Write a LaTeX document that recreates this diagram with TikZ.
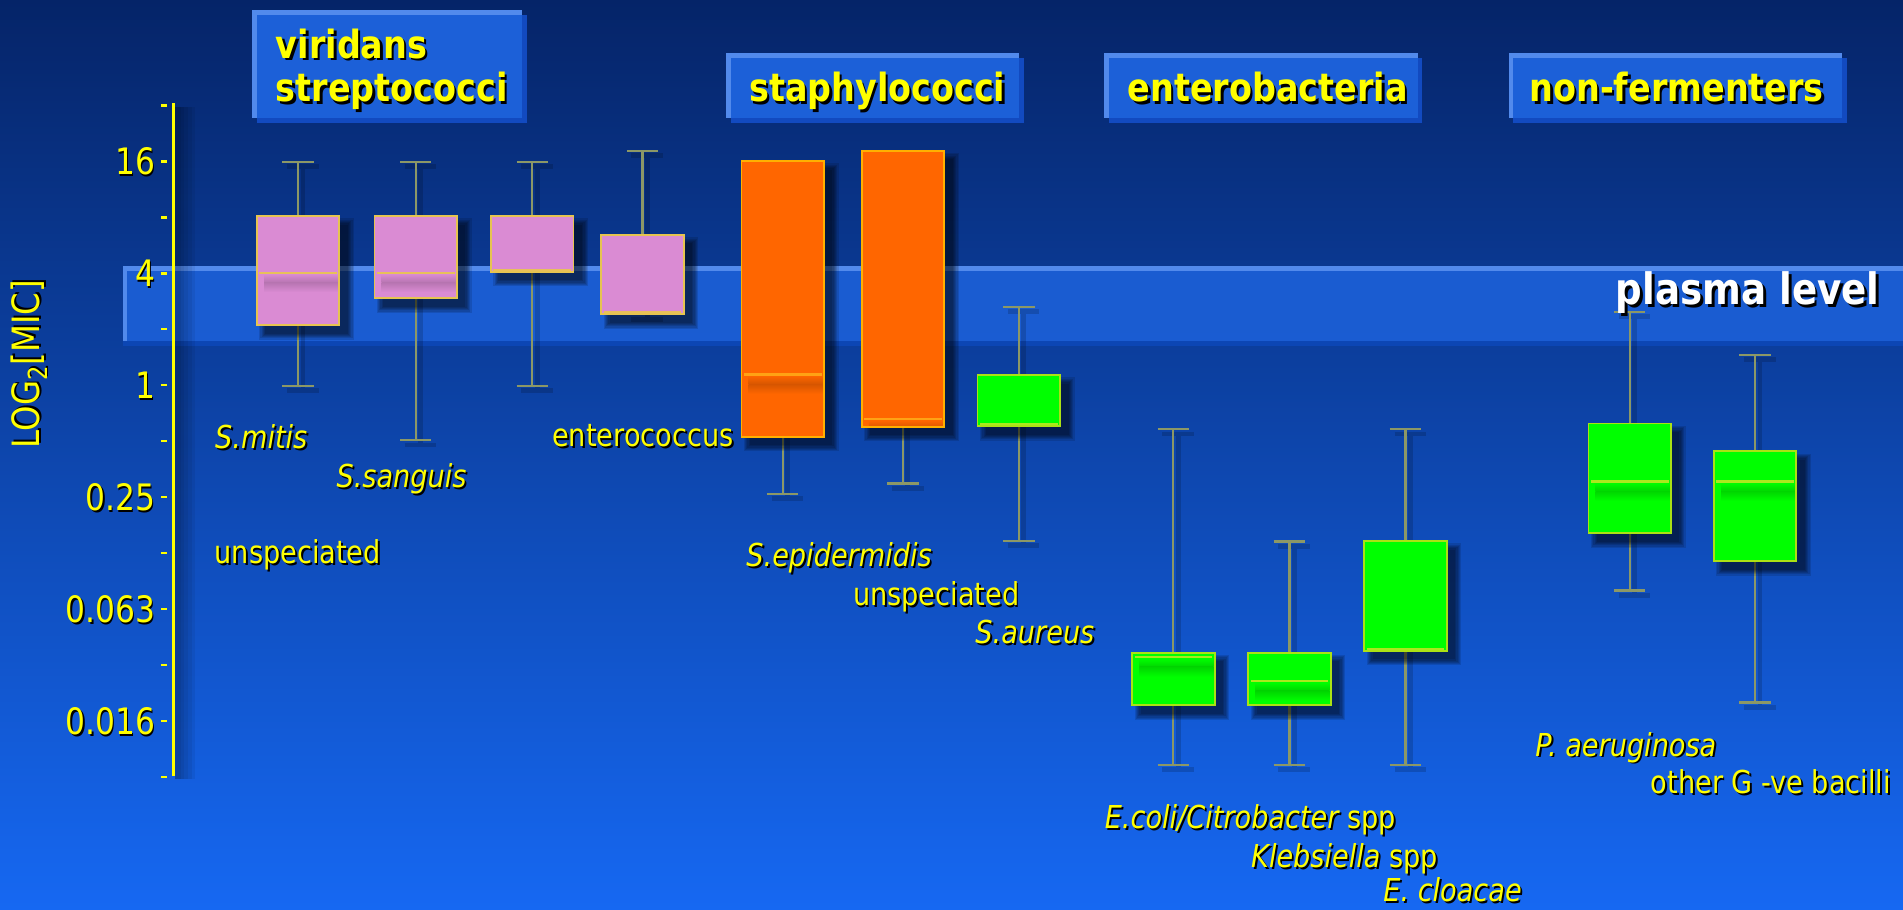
\documentclass[tikz,border=0pt]{standalone}
\usepackage{fontspec}
\newfontfamily\tah{DejaVu Sans}[FakeStretch=0.86]
\definecolor{bgtop}{RGB}{5,36,104}
\definecolor{bgmid}{RGB}{11,76,192}
\definecolor{bgbot}{RGB}{22,104,242}
\definecolor{band}{RGB}{28,96,216}
\definecolor{bandhi}{RGB}{82,138,236}
\definecolor{bandsh}{RGB}{12,70,180}
\definecolor{catsh}{RGB}{18,74,192}
\definecolor{pinkf}{RGB}{218,139,211}
\definecolor{pinkb}{RGB}{230,196,80}
\definecolor{pinkm}{RGB}{232,192,90}
\definecolor{orf}{RGB}{255,102,0}
\definecolor{orb}{RGB}{255,176,0}
\definecolor{orm}{RGB}{255,162,20}
\definecolor{grf}{RGB}{0,255,0}
\definecolor{grb}{RGB}{172,225,20}
\definecolor{grm}{RGB}{172,232,30}
\definecolor{whisk}{RGB}{140,152,102}
\definecolor{ylw}{RGB}{255,255,0}
\tikzset{
  lab/.style={inner sep=0pt, text=ylw, anchor=base west, font=\tah\fontsize{15.6pt}{18pt}\selectfont},
  labit/.style={lab, font=\tah\itshape\fontsize{15.6pt}{18pt}\selectfont},
  ticklab/.style={inner sep=0pt, text=ylw, anchor=east, font=\tah\fontsize{18pt}{20pt}\selectfont},
  axlab/.style={inner sep=0pt, text=ylw, rotate=90, font=\tah\fontsize{18.6pt}{20pt}\selectfont},
  cattext/.style={inner sep=0pt, text=ylw, anchor=base west, font=\tah\bfseries\fontsize{19.2pt}{21.6pt}\selectfont},
  plasmatext/.style={inner sep=0pt, text=white, anchor=base east, font=\tah\bfseries\fontsize{21.4pt}{24pt}\selectfont},
  tickmark/.style={ylw, line width=1.2pt},
  whiskline/.style={whisk, line width=1.1pt},
}
% shadowed text: [offset]{name}{style}{position}{text}
\newcommand{\shtxt}[5][0.9pt]{%
  \node[#3, text=black, xshift=#1, yshift=-#1] at #4 {#5};
  \node[#3] (#2) at #4 {#5};}
% box plot: cx, whisker top, q3, median, q1, whisker bottom, fill, border, median colour
\newcommand{\bxp}[9]{%
  \draw[black, opacity=0.16, line width=2.4pt] (#1+4,#2+4) -- (#1+4,#6+4)
     (#1-13+4,#2+4) -- (#1+13+4,#2+4) (#1-13+4,#6+4) -- (#1+13+4,#6+4);
  \draw[whiskline] (#1,#2) -- (#1,#3) (#1,#5) -- (#1,#6)
     (#1-13,#2) -- (#1+13,#2) (#1-13,#6) -- (#1+13,#6);
  \foreach \k in {0,...,5} {\fill[black, opacity=0.12] (#1-34+7-\k, #3+7-\k) rectangle (#1+34+7+\k, #5+7+\k);}
  \fill[#7] (#1-34,#3) rectangle (#1+34,#5);
  \begin{scope}
    \clip (#1-34,#3) rectangle (#1+34,#5);
    \shade[top color=#7, bottom color=#7!84!black] (#1-28,#4+1) rectangle (#1+33,#4+8);
    \shade[top color=#7!84!black, bottom color=#7] (#1-28,#4+8) rectangle (#1+33,#4+16);
  \end{scope}
  \draw[#9, line width=1.1pt] (#1-32,#4) -- (#1+32,#4);
  \draw[#8, line width=0.9pt] (#1-34,#3) rectangle (#1+34,#5);
}
% category box: name, x1, y1, x2, y2
\newcommand{\catbox}[5]{%
  \fill[catsh] (#2+4,#3+4) rectangle (#4+4,#5+4);
  \fill[band] (#2,#3) rectangle (#4,#5);
  \fill[bandhi] (#2,#3) rectangle (#4,#3+4);
  \fill[bandhi] (#2,#3) rectangle (#2+4,#5);
  \coordinate (#1) at (#2,#3);
}
\begin{document}
\begin{tikzpicture}[x=0.6pt,y=-0.6pt]
\useasboundingbox (0,0) rectangle (1568,749);
% background
\shade[top color=bgtop, middle color=bgmid, bottom color=bgbot] (0,0) rectangle (1568,749);
% plasma level band
\fill[bandsh] (101,281) rectangle (1568,285);
\fill[band, opacity=0.9] (101,219) rectangle (1568,281);
\fill[bandhi] (101,219) rectangle (1568,223);
\fill[bandhi] (101,219) rectangle (105,281);
\coordinate (bandc) at (834,250);
% category boxes
\catbox{vbox}{208}{8}{430}{97}
\catbox{sbox}{598}{44}{840}{97}
\catbox{ebox}{910}{44}{1168}{97}
\catbox{nbox}{1243}{44}{1518}{97}
\shtxt[1.2pt]{vir}{cattext}{(227,48)}{viridans}
\shtxt[1.2pt]{strep}{cattext}{(227,84)}{streptococci}
\shtxt[1.2pt]{staph}{cattext}{(617,84)}{staphylococci}
\shtxt[1.2pt]{entero}{cattext}{(929,84)}{enterobacteria}
\shtxt[1.2pt]{nonf}{cattext}{(1260,84)}{non-fermenters}
% axis
\foreach \k in {1,...,5} {\fill[black, opacity=0.06] (144,88) rectangle (146+3*\k,642);}
\coordinate (axtop) at (143,85);
\coordinate (axbot) at (143,639);
\draw[ylw, line width=1.5pt] (axtop) -- (axbot);
\foreach \i in {-1,...,11} {\draw[tickmark] (133,133+46.1*\i) -- (138,133+46.1*\i);}
\shtxt{t16}{ticklab}{(128,133)}{16}
\shtxt{t4}{ticklab}{(128,225.2)}{4}
\shtxt{t1}{ticklab}{(128,317.4)}{1}
\shtxt{t025}{ticklab}{(128,409.6)}{0.25}
\shtxt{t0063}{ticklab}{(128,501.8)}{0.063}
\shtxt{t0016}{ticklab}{(128,594)}{0.016}
\shtxt{ylab}{axlab}{(24,300)}{LOG\textsubscript{2}[MIC]}
% box plots
\bxp{245.6}{133.2}{178}{224.7}{267.8}{317.8}{pinkf}{pinkb}{pinkm}
\bxp{342.5}{133.2}{178}{224.7}{245.8}{362.6}{pinkf}{pinkb}{pinkm}
\bxp{438.6}{133.2}{178}{222.3}{223.9}{317.8}{pinkf}{pinkb}{pinkm}
\bxp{529.3}{124.2}{193.6}{257.3}{259}{259}{pinkf}{pinkb}{pinkm}
\bxp{644.9}{132.7}{132.7}{308.5}{359.8}{407}{orf}{orb}{orm}
\bxp{744}{124.2}{124.2}{345.5}{351.6}{398.3}{orf}{orb}{orm}
\bxp{839.4}{252.7}{309}{349.3}{351}{445.5}{grf}{grb}{grm}
\bxp{966.8}{353.6}{537.7}{541.5}{581.2}{630.3}{grf}{grb}{grm}
\bxp{1062.4}{446.1}{537.7}{561.3}{581.2}{630.3}{grf}{grb}{grm}
\bxp{1158}{353.6}{445.8}{534.6}{536.3}{630.3}{grf}{grb}{grm}
\bxp{1342.8}{256.9}{349}{396.7}{439.4}{486.5}{grf}{grb}{grm}
\bxp{1446.1}{292.5}{371.7}{396.7}{462.3}{578.9}{grf}{grb}{grm}
% plasma label
\shtxt[1.4pt]{plasma}{plasmatext}{(1549,251)}{plasma level}
% species labels
\shtxt{smitis}{labit}{(177,369.4)}{S.mitis}
\shtxt{ssang}{labit}{(277,401.6)}{S.sanguis}
\shtxt{unsp1}{lab}{(176.6,464.2)}{unspeciated}
\shtxt{entc}{lab}{(454.7,368)}{enterococcus}
\shtxt{sepi}{labit}{(614.7,466.9)}{S.epidermidis}
\shtxt{unsp2}{lab}{(702.6,499.3)}{unspeciated}
\shtxt{saur}{labit}{(803.4,530.6)}{S.aureus}
\shtxt{ecoli}{lab}{(910,682.5)}{\itshape E.coli/Citrobacter\upshape{} spp}
\shtxt{kleb}{lab}{(1030.6,714.7)}{\itshape Klebsiella\upshape{} spp}
\shtxt{eclo}{labit}{(1139.5,743)}{E. cloacae}
\shtxt{paer}{labit}{(1264.8,623)}{P. aeruginosa}
\shtxt{other}{lab}{(1360,653.7)}{other G -ve bacilli}
\end{tikzpicture}
\end{document}
